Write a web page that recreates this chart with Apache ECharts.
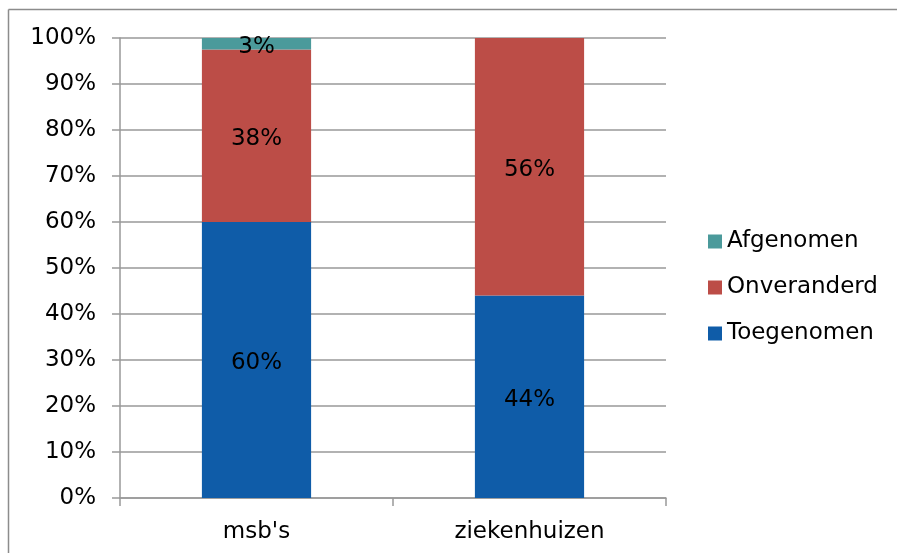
<!DOCTYPE html>
<html>
<head>
<meta charset="utf-8">
<script src="https://cdn.jsdelivr.net/npm/echarts@6/dist/echarts.min.js"></script>
<style>html,body{margin:0;padding:0;background:#fff;}#c{width:897px;height:553px;}</style>
</head>
<body>
<div id="c"></div>
<script>
const categories = ["msb's", "ziekenhuizen"];
const toegenomen = [60, 44];
const onveranderd = [37.5, 56];
const afgenomen = [2.5, 0];
const yTicks = [0, 10, 20, 30, 40, 50, 60, 70, 80, 90, 100];

const FONT = 'DejaVu Sans';
const chart = echarts.init(document.getElementById('c'), null, {renderer: 'canvas'});
const label = {
  show: true,
  position: 'inside',
  offset: [0, 3],
  color: '#000',
  fontFamily: FONT,
  fontSize: 23,
  formatter: p => p.value > 0 ? Math.round(p.value) + '%' : ''
};
chart.setOption({
  animation: false,
  backgroundColor: '#fff',
  graphic: [
    {type: 'line', shape: {x1: 8.5, y1: 9.5, x2: 897, y2: 9.5},
     style: {stroke: '#8c8c8c', lineWidth: 1.5}, silent: true},
    {type: 'line', shape: {x1: 8.5, y1: 9.5, x2: 8.5, y2: 553},
     style: {stroke: '#8c8c8c', lineWidth: 1.5}, silent: true}
  ],
  grid: {left: 120, right: 231, top: 38, bottom: 55},
  legend: {
    orient: 'vertical',
    left: 708,
    top: 230,
    padding: 0,
    itemWidth: 14,
    itemHeight: 14,
    itemGap: 23,
    icon: 'rect',
    data: ['Afgenomen', 'Onveranderd', 'Toegenomen'],
    textStyle: {fontFamily: FONT, fontSize: 23, color: '#000'}
  },
  xAxis: {
    type: 'category',
    data: categories,
    boundaryGap: true,
    axisLine: {show: true, lineStyle: {color: '#999', width: 1.5}},
    axisTick: {show: true, length: 8, inside: false, lineStyle: {color: '#999', width: 1.5}},
    axisLabel: {color: '#000', fontFamily: FONT, fontSize: 23, margin: 23}
  },
  yAxis: {
    type: 'value',
    min: 0,
    max: 100,
    interval: 10,
    axisLine: {show: true, lineStyle: {color: '#999', width: 1.5}},
    axisTick: {show: true, length: 8, lineStyle: {color: '#999', width: 1.5}},
    splitLine: {show: true, lineStyle: {color: '#999', width: 1.5}},
    axisLabel: {
      color: '#000', fontFamily: FONT, fontSize: 23, margin: 24,
      formatter: v => (yTicks.indexOf(v) >= 0 ? v + '%' : '')
    }
  },
  series: [
    {name: 'Toegenomen', type: 'bar', stack: 's', barWidth: '40%', data: toegenomen,
     itemStyle: {color: '#0f5ca8'}, label: label},
    {name: 'Onveranderd', type: 'bar', stack: 's', barWidth: '40%', data: onveranderd,
     itemStyle: {color: '#bc4d47'}, label: label},
    {name: 'Afgenomen', type: 'bar', stack: 's', barWidth: '40%', data: afgenomen,
     itemStyle: {color: '#4b9a9b'}, label: label}
  ]
});
</script>
</body>
</html>
